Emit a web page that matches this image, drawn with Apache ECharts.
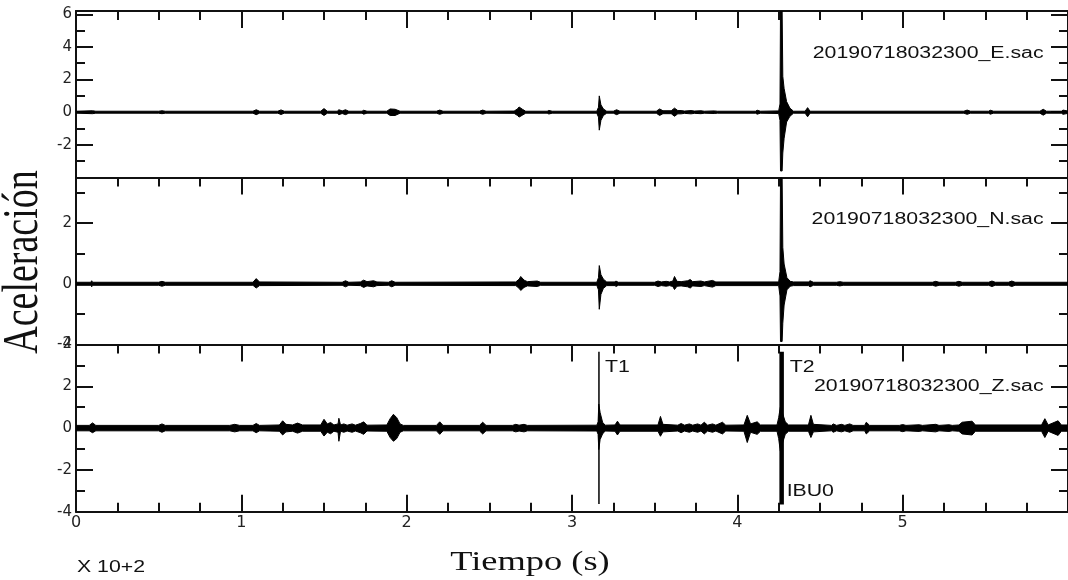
<!DOCTYPE html>
<html><head><meta charset="utf-8">
<script src="https://cdn.jsdelivr.net/npm/echarts@6/dist/echarts.min.js"></script>
<style>html,body{margin:0;padding:0;background:#fff}#c{width:1068px;height:580px}</style>
</head><body><div id="c"></div>
<script>
// ---------- DATA (time in units of 10^2 s, acceleration envelope) ----------
const xTickLabels = ['0','1','2','3','4','5'];
const traceNames = ['20190718032300_E.sac','20190718032300_N.sac','20190718032300_Z.sac'];
const yMin = [-4, -2, -4];
const yMax = [6.2, 3.5, 4];

// E component: envelope upper / lower
const timeE = [0.00,0.10,0.12,0.50,0.52,0.54,1.07,1.09,1.11,1.22,1.24,1.26,1.48,1.50,1.52,1.58,1.59,1.61,1.63,1.65,1.73,1.74,1.76,1.88,1.90,1.93,1.96,2.18,2.20,2.22,2.44,2.46,2.48,2.65,2.67,2.68,2.70,2.72,2.85,2.86,2.88,3.15,3.160,3.165,3.175,3.19,3.21,3.25,3.27,3.29,3.51,3.53,3.55,3.60,3.62,3.64,3.66,3.68,3.72,3.74,3.78,3.80,3.86,3.88,4.11,4.12,4.14,4.25,4.258,4.261,4.271,4.275,4.283,4.298,4.318,4.34,4.41,4.425,4.44,5.37,5.39,5.41,5.52,5.53,5.55,5.83,5.85,5.87,5.96,5.97,6.00];
const upE   = [0.06,0.09,0.06,0.06,0.09,0.06,0.06,0.15,0.06,0.06,0.14,0.06,0.06,0.22,0.06,0.06,0.15,0.08,0.15,0.06,0.06,0.12,0.06,0.06,0.2,0.18,0.06,0.06,0.13,0.06,0.06,0.13,0.06,0.07,0.2,0.32,0.18,0.06,0.06,0.11,0.06,0.06,0.3,1.0,0.45,0.2,0.06,0.06,0.15,0.06,0.06,0.2,0.09,0.09,0.25,0.1,0.1,0.07,0.1,0.07,0.09,0.06,0.08,0.06,0.06,0.12,0.06,0.08,0.5,6.2,6.2,2.2,1.45,0.65,0.25,0.06,0.06,0.28,0.06,0.06,0.13,0.06,0.06,0.12,0.06,0.06,0.18,0.06,0.06,0.13,0.07];
const loE   = [-0.06,-0.09,-0.06,-0.06,-0.09,-0.06,-0.06,-0.15,-0.06,-0.06,-0.14,-0.06,-0.06,-0.2,-0.06,-0.06,-0.15,-0.08,-0.15,-0.06,-0.06,-0.12,-0.06,-0.06,-0.2,-0.2,-0.06,-0.06,-0.13,-0.06,-0.06,-0.13,-0.06,-0.07,-0.2,-0.3,-0.18,-0.06,-0.06,-0.11,-0.06,-0.06,-0.3,-1.1,-0.5,-0.2,-0.06,-0.06,-0.15,-0.06,-0.06,-0.2,-0.09,-0.09,-0.25,-0.1,-0.1,-0.07,-0.1,-0.07,-0.09,-0.06,-0.08,-0.06,-0.06,-0.12,-0.06,-0.08,-0.5,-3.6,-3.6,-2.5,-1.6,-0.6,-0.25,-0.06,-0.06,-0.28,-0.06,-0.06,-0.13,-0.06,-0.06,-0.12,-0.06,-0.06,-0.18,-0.06,-0.06,-0.13,-0.07];

// N component
const timeN = [0.00,0.09,0.095,0.10,0.50,0.52,0.54,1.07,1.09,1.11,1.61,1.63,1.65,1.72,1.74,1.76,1.80,1.82,1.89,1.91,1.93,2.66,2.68,2.69,2.71,2.73,2.79,2.81,3.15,3.160,3.165,3.175,3.19,3.21,3.26,3.265,3.28,3.50,3.52,3.54,3.57,3.59,3.61,3.62,3.635,3.66,3.70,3.715,3.73,3.78,3.80,3.85,3.87,4.25,4.258,4.261,4.271,4.275,4.283,4.30,4.32,4.34,4.43,4.44,4.46,4.60,4.62,4.64,5.18,5.20,5.22,5.32,5.34,5.36,5.52,5.54,5.56,5.64,5.66,5.68,6.00];
const upN   = [0.05,0.05,0.1,0.05,0.05,0.08,0.05,0.05,0.17,0.06,0.05,0.1,0.05,0.06,0.12,0.07,0.1,0.06,0.05,0.1,0.05,0.06,0.15,0.24,0.12,0.07,0.09,0.05,0.05,0.2,0.6,0.3,0.15,0.06,0.06,0.09,0.05,0.05,0.09,0.06,0.08,0.06,0.09,0.24,0.08,0.07,0.1,0.14,0.07,0.09,0.06,0.11,0.06,0.06,0.4,3.5,3.5,1.2,0.65,0.2,0.08,0.06,0.06,0.1,0.05,0.05,0.07,0.05,0.05,0.08,0.05,0.05,0.08,0.05,0.05,0.09,0.05,0.05,0.09,0.05,0.05];
const loN   = [-0.05,-0.05,-0.1,-0.05,-0.05,-0.08,-0.05,-0.05,-0.14,-0.06,-0.05,-0.1,-0.05,-0.06,-0.12,-0.07,-0.1,-0.06,-0.05,-0.1,-0.05,-0.06,-0.15,-0.22,-0.12,-0.07,-0.09,-0.05,-0.05,-0.2,-0.84,-0.35,-0.15,-0.06,-0.06,-0.09,-0.05,-0.05,-0.09,-0.06,-0.08,-0.06,-0.09,-0.19,-0.08,-0.07,-0.1,-0.14,-0.07,-0.09,-0.06,-0.11,-0.06,-0.06,-0.4,-1.9,-1.9,-1.3,-0.7,-0.2,-0.08,-0.06,-0.06,-0.1,-0.05,-0.05,-0.07,-0.05,-0.05,-0.08,-0.05,-0.05,-0.08,-0.05,-0.05,-0.09,-0.05,-0.05,-0.09,-0.05,-0.05];

// Z component
const timeZ = [0.00,0.08,0.10,0.12,0.50,0.52,0.54,0.93,0.96,0.99,1.07,1.09,1.11,1.23,1.25,1.27,1.31,1.34,1.37,1.48,1.50,1.52,1.54,1.56,1.585,1.59,1.60,1.62,1.64,1.67,1.69,1.72,1.74,1.76,1.88,1.90,1.92,1.94,1.96,1.98,2.18,2.20,2.22,2.44,2.46,2.48,2.64,2.66,2.68,2.71,2.73,3.15,3.158,3.162,3.17,3.185,3.20,3.26,3.275,3.29,3.52,3.535,3.55,3.64,3.66,3.68,3.71,3.73,3.76,3.78,3.80,3.82,3.85,3.87,3.91,3.93,4.04,4.06,4.08,4.12,4.14,4.24,4.25,4.26,4.27,4.29,4.31,4.43,4.445,4.46,4.57,4.58,4.60,4.63,4.65,4.68,4.70,4.77,4.78,4.80,4.98,5.00,5.02,5.10,5.12,5.20,5.22,5.28,5.30,5.34,5.36,5.42,5.44,5.84,5.86,5.88,5.94,5.96,6.00];
const upZ   = [0.13,0.13,0.25,0.13,0.13,0.2,0.13,0.13,0.18,0.13,0.13,0.22,0.13,0.15,0.35,0.18,0.15,0.24,0.15,0.15,0.42,0.2,0.27,0.15,0.2,0.47,0.15,0.2,0.14,0.2,0.14,0.22,0.3,0.14,0.15,0.45,0.66,0.5,0.2,0.13,0.13,0.3,0.13,0.13,0.28,0.13,0.13,0.18,0.14,0.18,0.13,0.14,0.3,1.15,0.75,0.28,0.14,0.15,0.33,0.15,0.15,0.56,0.18,0.14,0.22,0.14,0.2,0.14,0.2,0.14,0.28,0.14,0.2,0.14,0.28,0.14,0.15,0.61,0.2,0.3,0.15,0.15,0.5,1.0,0.8,0.3,0.15,0.15,0.61,0.18,0.13,0.2,0.13,0.18,0.13,0.2,0.13,0.13,0.28,0.13,0.13,0.17,0.13,0.16,0.13,0.18,0.13,0.16,0.13,0.15,0.28,0.33,0.15,0.15,0.45,0.15,0.35,0.15,0.15];
const loZ   = [-0.13,-0.13,-0.22,-0.13,-0.13,-0.2,-0.13,-0.13,-0.18,-0.13,-0.13,-0.22,-0.13,-0.15,-0.33,-0.18,-0.15,-0.24,-0.15,-0.15,-0.38,-0.2,-0.27,-0.15,-0.2,-0.63,-0.15,-0.2,-0.14,-0.2,-0.14,-0.22,-0.3,-0.14,-0.15,-0.45,-0.63,-0.5,-0.2,-0.13,-0.13,-0.3,-0.13,-0.13,-0.28,-0.13,-0.13,-0.18,-0.14,-0.18,-0.13,-0.14,-0.3,-1.03,-0.55,-0.28,-0.14,-0.15,-0.33,-0.15,-0.15,-0.39,-0.18,-0.14,-0.22,-0.14,-0.2,-0.14,-0.2,-0.14,-0.28,-0.14,-0.2,-0.14,-0.28,-0.14,-0.15,-0.69,-0.2,-0.3,-0.15,-0.15,-0.5,-1.1,-0.8,-0.3,-0.15,-0.15,-0.45,-0.18,-0.13,-0.2,-0.13,-0.18,-0.13,-0.2,-0.13,-0.13,-0.28,-0.13,-0.13,-0.17,-0.13,-0.16,-0.13,-0.18,-0.13,-0.16,-0.13,-0.15,-0.28,-0.33,-0.15,-0.15,-0.45,-0.15,-0.35,-0.15,-0.15];

// phase markers on Z component
const markerNames = ['T1','T2'];
const markerTime  = [3.163, 4.268];
const markerTop   = [3.65, 3.65];
const markerBot   = [-3.63, -3.65];
const pickName = 'IBU0';

// ---------- CHART ----------
const chart = echarts.init(document.getElementById('c'), null, {renderer:'canvas'});
const AX = '#111';
const lineSt = {color: AX, width: 2};
const grids = [
  {left:76, top:11,    width:996.6, height:166.5},
  {left:76, top:177.5, width:996.6, height:167},
  {left:76, top:344.5, width:996.6, height:167.2}
];
const xAxes = [], yAxes = [];
for (let p = 0; p < 3; p++) {
  const bottomPanel = (p === 2);
  xAxes.push({type:'value', gridIndex:p, position:'bottom', min:0, max:6, interval:1,
    axisLine:{show:true, onZero:false, lineStyle:lineSt},
    axisTick:{show:bottomPanel, inside:true, length:17, lineStyle:lineSt},
    axisLabel:{show:bottomPanel, margin:3, showMaxLabel:false, color:'#222',
      fontFamily:'DejaVu Sans', fontSize:16,
      formatter:(v)=>{const i=Math.round(v); return (Math.abs(v-i)<1e-6 && xTickLabels[i]!==undefined)? xTickLabels[i] : '';}},
    splitLine:{show:false}});
  xAxes.push({type:'value', gridIndex:p, position:'bottom', min:0, max:6, interval:0.25,
    axisLine:{show:false, onZero:false},
    axisTick:{show:bottomPanel, inside:true, length:9, lineStyle:lineSt},
    axisLabel:{show:false}, splitLine:{show:false}});
  xAxes.push({type:'value', gridIndex:p, position:'top', min:0, max:6, interval:1,
    axisLine:{show:true, onZero:false, lineStyle:lineSt},
    axisTick:{show:true, inside:true, length:17, lineStyle:lineSt},
    axisLabel:{show:false}, splitLine:{show:false}});
  xAxes.push({type:'value', gridIndex:p, position:'top', min:0, max:6, interval:0.25,
    axisLine:{show:false, onZero:false},
    axisTick:{show:true, inside:true, length:9, lineStyle:lineSt},
    axisLabel:{show:false}, splitLine:{show:false}});

  yAxes.push({type:'value', gridIndex:p, position:'left', min:yMin[p], max:yMax[p], interval:2,
    axisLine:{show:true, onZero:false, lineStyle:lineSt},
    axisTick:{show:true, inside:true, length:17, lineStyle:lineSt},
    axisLabel:{show:true, margin:4, color:'#222', fontFamily:'DejaVu Sans', fontSize:15,
      showMinLabel: p !== 0, showMaxLabel: p === 2},
    splitLine:{show:false}});
  yAxes.push({type:'value', gridIndex:p, position:'left', min:yMin[p], max:yMax[p], interval:1,
    axisLine:{show:false, onZero:false},
    axisTick:{show:true, inside:true, length:9, lineStyle:lineSt},
    axisLabel:{show:false}, splitLine:{show:false}});
  yAxes.push({type:'value', gridIndex:p, position:'right', min:yMin[p], max:yMax[p], interval:2,
    axisLine:{show:true, onZero:false, lineStyle:lineSt},
    axisTick:{show:true, inside:true, length:17, lineStyle:lineSt},
    axisLabel:{show:false}, splitLine:{show:false}});
  yAxes.push({type:'value', gridIndex:p, position:'right', min:yMin[p], max:yMax[p], interval:1,
    axisLine:{show:false, onZero:false},
    axisTick:{show:true, inside:true, length:9, lineStyle:lineSt},
    axisLabel:{show:false}, splitLine:{show:false}});
}

function envSeries(p, T, U, L) {
  return {
    type:'custom', xAxisIndex:p*4, yAxisIndex:p*4, clip:true, silent:true, animation:false,
    data: T.map((t,i)=>[t, U[i], L[i]]),
    encode:{x:0, y:[1,2]},
    renderItem:function(params, api){
      if (params.dataIndex !== 0) return;
      const pts = [];
      for (let i = 0; i < T.length; i++) pts.push(api.coord([T[i], U[i]]));
      for (let i = T.length - 1; i >= 0; i--) pts.push(api.coord([T[i], L[i]]));
      return {type:'polygon', shape:{points:pts}, style:{fill:'#000', stroke:'#000', lineWidth:1}};
    }
  };
}

const series = [
  envSeries(0, timeE, upE, loE),
  envSeries(1, timeN, upN, loN),
  envSeries(2, timeZ, upZ, loZ),
  {type:'line', xAxisIndex:8, yAxisIndex:8, symbol:'none', silent:true, animation:false,
   data:[[markerTime[0], markerTop[0]],[markerTime[0], markerBot[0]]],
   lineStyle:{color:'#000', width:1.5}},
  {type:'line', xAxisIndex:8, yAxisIndex:8, symbol:'none', silent:true, animation:false,
   data:[[markerTime[1], markerTop[1]],[markerTime[1], markerBot[1]]],
   lineStyle:{color:'#000', width:4.5}}
];

chart.setOption({
  animation:false,
  backgroundColor:'#fff',
  grid: grids,
  xAxis: xAxes,
  yAxis: yAxes,
  series: series
});

// ---------- TEXT ANNOTATIONS ----------
function px(p, x, y){ return chart.convertToPixel({xAxisIndex:p*4, yAxisIndex:p*4}, [x, y]); }
const SANS = '16px "Liberation Sans"';
function txt(x, y, s, align, font, sx, sy, rot) {
  return {type:'text', x:x, y:y, rotation:rot||0, scaleX:sx||1, scaleY:sy||1, silent:true,
    style:{text:s, font:font, fill:'#111', align:align, textAlign:align,
           verticalAlign:'middle', textVerticalAlign:'middle'}};
}
const nameY = [3.6, 2.1, 1.97];
const gfx = [];
for (let p = 0; p < 3; p++) {
  const q = px(p, 5.852, nameY[p]);
  gfx.push(txt(q[0], q[1], traceNames[p], 'right', SANS, 1.33, 1));
}
const m1 = px(2, markerTime[0], 2.9);
gfx.push(txt(m1[0] + 6, m1[1], markerNames[0], 'left', SANS, 1.33, 1));
const m2 = px(2, markerTime[1], 2.9);
gfx.push(txt(m2[0] + 8, m2[1], markerNames[1], 'left', SANS, 1.33, 1));
const m3 = px(2, markerTime[1], -3.06);
gfx.push(txt(m3[0] + 5, m3[1], pickName, 'left', SANS, 1.33, 1));
gfx.push(txt(77, 568, 'X 10+2', 'left', SANS, 1.33, 1));
gfx.push(txt(530, 563, 'Tiempo (s)', 'center', '28px "Liberation Serif"', 1.3, 1));
gfx.push(txt(24, 262, 'Aceleración', 'center', '38px "Liberation Serif"', 1, 1.35, Math.PI/2));
chart.setOption({graphic: gfx});
</script>
</body></html>
